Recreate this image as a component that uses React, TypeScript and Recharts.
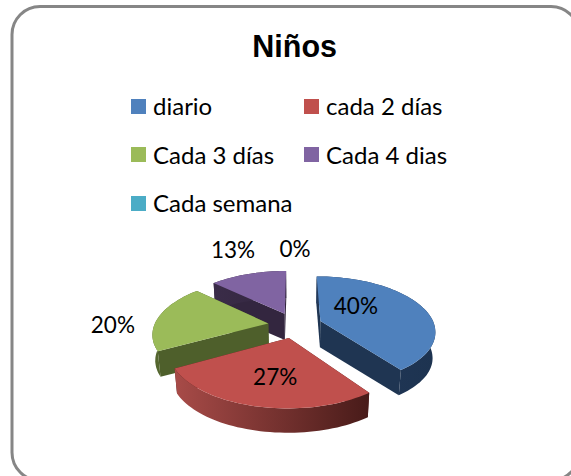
import { Legend, Pie, PieChart } from "recharts";

const categories = ["diario", "cada 2 días", "Cada 3 días", "Cada 4 dias", "Cada semana"];
const shares = [40, 27, 20, 13, 0];
const topColors = ["#4F81BD", "#C0504D", "#9BBB59", "#8064A2", "#4BACC6"];
const faceColors = ["#1F3552", "#4F1F1D", "#4E5F2B", "#33263F", "#1F5463"];
const wallLeft = ["#22395A", "#A84B48", "#55672F", "#3A2C48", "#1F5463"];
const wallRight = ["#1D3350", "#481B19", "#4E5F2B", "#33263F", "#1F5463"];

// drawn back to front, so the table runs the other way round the pie
const table = categories
  .map((name, i) => ({ name, value: shares[i], slot: i }))
  .reverse();

// tilt and perspective of the 3D look
const TILT = 0.47;
const PERSP = 0.17;
const EXPLODE = 27;
const DEPTH = 26;
const FONT = "Lato, sans-serif";

function project(cx: number, cy: number, R: number, X: number, Z: number, low = false) {
  let s = 1 / (1 - (PERSP * Z) / R);
  if (low) s *= 0.98;
  return [cx + X * s, cy + Z * TILT * s + (low ? DEPTH : 0)];
}

const toPts = (pts: number[][]) => pts.map((p) => p[0].toFixed(1) + "," + p[1].toFixed(1)).join(" ");

function Slice3D(props: any) {
  const { cx, cy, outerRadius: R, startAngle, endAngle, payload } = props;
  if (Math.abs(endAngle - startAngle) < 0.01) return null;
  const slot = payload.slot;
  const mid = (((startAngle + endAngle) / 2) * Math.PI) / 180;
  const ox = EXPLODE * Math.cos(mid);
  const oz = -EXPLODE * Math.sin(mid);
  const lo = Math.min(startAngle, endAngle);
  const hi = Math.max(startAngle, endAngle);
  const angles: number[] = [];
  for (let a = lo; a < hi; a += 2) angles.push(a);
  angles.push(hi);
  const rim = (low: boolean) =>
    angles.map((a) => {
      const t = (a * Math.PI) / 180;
      return project(cx, cy, R, ox + R * Math.cos(t), oz - R * Math.sin(t), low);
    });
  const top = rim(false);
  const bottom = rim(true);
  const apex = project(cx, cy, R, ox, oz);
  const apexLow = project(cx, cy, R, ox, oz, true);
  const id = "wall" + slot;
  return (
    <g>
      <defs>
        <linearGradient id={id} x1="0" y1="0" x2="1" y2="0">
          <stop offset="0" stopColor={wallLeft[slot]} />
          <stop offset="1" stopColor={wallRight[slot]} />
        </linearGradient>
      </defs>
      <polygon points={toPts([apex, top[0], bottom[0], apexLow])} fill={faceColors[slot]} />
      <polygon
        points={toPts([apex, top[top.length - 1], bottom[bottom.length - 1], apexLow])}
        fill={faceColors[slot]}
      />
      <polygon points={toPts([...top, ...[...bottom].reverse()])} fill={`url(#${id})`} />
      <polygon points={toPts([apex, ...top])} fill={topColors[slot]} />
    </g>
  );
}

// how far out along the slice each label sits, and a small nudge in pixels
const labelRadius = [0.62, 0.62, 1.62, 1.6, 1.72];
const labelNudgeX = [-28, 5, -5, -4, 0];
const labelNudgeY = [-6, -1, 10, -13, -5];

function SliceLabel(props: any) {
  const { cx, cy, outerRadius: R, midAngle, payload } = props;
  const slot = payload.slot;
  const m = (midAngle * Math.PI) / 180;
  const r = R * labelRadius[slot];
  const ex = slot < 2 ? EXPLODE * Math.cos(m) : 0;
  const ez = slot < 2 ? -EXPLODE * Math.sin(m) : 0;
  const [x, y] = project(cx, cy, R, ex + r * Math.cos(m), ez - r * Math.sin(m));
  return (
    <text
      x={x + labelNudgeX[slot]}
      y={y + labelNudgeY[slot]}
      textAnchor="middle"
      dominantBaseline="central"
      fontFamily={FONT}
      fontSize={22.5}
      fill="#000"
    >
      {shares[slot] + "%"}
    </text>
  );
}

function LegendBlock() {
  return (
    <div style={{ display: "grid", gridTemplateColumns: "173px 173px", gridAutoRows: "48.5px" }}>
      {categories.map((name, i) => (
        <div key={name} style={{ display: "flex", alignItems: "center", height: 48.5 }}>
          <span style={{ width: 15, height: 15, background: topColors[i], marginRight: 7, flex: "none" }} />
          <span style={{ fontFamily: FONT, fontSize: 24, color: "#000", lineHeight: "20px" }}>{name}</span>
        </div>
      ))}
    </div>
  );
}

export default function App() {
  return (
    <div style={{ position: "absolute", left: 0, top: 0, width: 571, height: 476, background: "#fff" }}>
      <PieChart width={571} height={476} margin={{ top: 0, right: 0, bottom: 0, left: 0 }}>
        <rect x={12} y={6.5} width={567} height={474} rx={28} ry={28} fill="#fff" stroke="#868686" strokeWidth={3} />
        <text x={294.7} y={57} textAnchor="middle" fontFamily="'Liberation Sans', Arial, sans-serif" fontWeight="bold" fontSize={30.5} fill="#000">
          Niños
        </text>
        <Pie
          data={table}
          dataKey="value"
          nameKey="name"
          cx={295}
          cy={325}
          outerRadius={114}
          startAngle={90}
          endAngle={450}
          shape={Slice3D}
          label={SliceLabel}
          labelLine={false}
          stroke="none"
          isAnimationActive={false}
        />
        <Legend content={LegendBlock} wrapperStyle={{ left: 131, top: 82, width: 346, bottom: "auto" }} />
      </PieChart>
    </div>
  );
}
